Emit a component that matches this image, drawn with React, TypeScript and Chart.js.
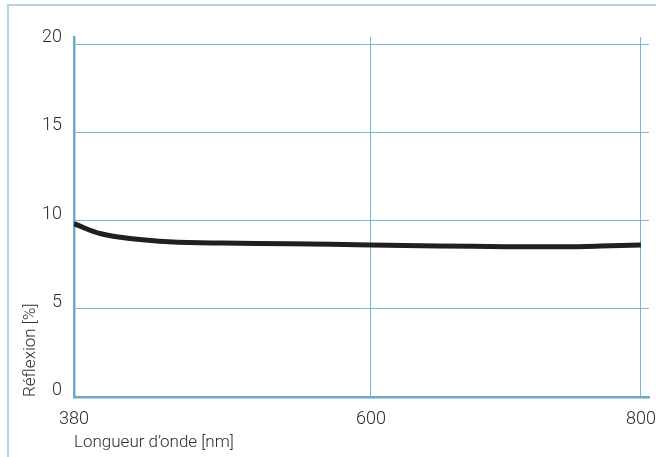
import React, { useEffect, useRef } from "react";
import { Chart, registerables } from "chart.js";

Chart.register(...registerables);

const wavelengths = [380, 400, 425, 450, 490, 540, 600, 650, 700, 740, 770, 800];
const reflection = [9.82, 9.25, 8.95, 8.8, 8.72, 8.68, 8.62, 8.56, 8.52, 8.51, 8.55, 8.62];
const xTicks = [380, 600, 800];
const yTicks = [0, 5, 10, 15, 20];
const xTitle = "Longueur d’onde [nm]";
const yTitle = "Réflexion [%]";

const GRID = "#7db6d2";
const AXIS = "#6fa9c7";
const TEXT = "#2e2e2e";
const FONT = "Roboto";

const frame = {
  id: "frame",
  beforeDraw(chart: any) {
    const ctx = chart.ctx;
    ctx.save();
    ctx.strokeStyle = "#b3d6e6";
    ctx.lineWidth = 2;
    ctx.beginPath();
    ctx.moveTo(8, chart.height);
    ctx.lineTo(8, 5);
    ctx.lineTo(chart.width, 5);
    ctx.stroke();
    ctx.restore();
  },
};

export default function App() {
  const ref = useRef<HTMLCanvasElement>(null);
  useEffect(() => {
    document.body.style.margin = "0";
    const chart = new Chart(ref.current!, {
      type: "line",
      data: {
        datasets: [
          {
            data: wavelengths.map((x, i) => ({ x, y: reflection[i] })),
            borderColor: "#231f20",
            borderWidth: 5,
            pointRadius: 0,
            tension: 0.4,
            fill: false,
          },
        ],
      },
      options: {
        animation: false,
        responsive: false,
        layout: { padding: { left: 19, right: 7, top: 37, bottom: 4 } },
        plugins: { legend: { display: false }, tooltip: { enabled: false } },
        scales: {
          x: {
            type: "linear",
            min: 380,
            max: 806,
            afterBuildTicks: (s: any) => {
              s.ticks = xTicks.map((v) => ({ value: v }));
            },
            afterFit: (s: any) => {
              s.height = 56;
              s.paddingLeft = 0;
              s.paddingRight = 0;
              s.paddingTop = 0;
              s.paddingBottom = 0;
            },
            grid: { color: GRID, lineWidth: 1, drawTicks: false },
            border: { color: AXIS, width: 2.5 },
            ticks: {
              padding: 12,
              color: TEXT,
              font: { family: FONT, size: 18, weight: "300" },
              maxRotation: 0,
              autoSkip: false,
              callback: (v: any) => String(v),
            },
            title: {
              display: true,
              text: xTitle,
              align: "start",
              color: TEXT,
              font: { family: FONT, size: 17, weight: "300" },
              padding: { top: 0, bottom: 0 },
            },
          },
          y: {
            type: "linear",
            min: 0,
            max: 20.4,
            afterBuildTicks: (s: any) => {
              s.ticks = yTicks.map((v) => ({ value: v }));
            },
            afterFit: (s: any) => {
              s.width = 55;
              s.paddingLeft = 0;
              s.paddingRight = 0;
              s.paddingTop = 0;
              s.paddingBottom = 0;
            },
            grid: { color: GRID, lineWidth: 1, drawTicks: false },
            border: { color: AXIS, width: 2.5 },
            ticks: {
              padding: 12,
              labelOffset: -6.5,
              color: TEXT,
              font: { family: FONT, size: 18, weight: "300" },
              autoSkip: false,
              callback: (v: any) => String(v),
            },
            title: {
              display: true,
              text: yTitle,
              align: "start",
              color: TEXT,
              font: { family: FONT, size: 17, weight: "300" },
              padding: { top: 2, bottom: 0 },
            },
          },
        },
      },
      plugins: [frame],
    });
    return () => chart.destroy();
  }, []);
  return (
    <div style={{ width: 656, height: 457 }}>
      <canvas ref={ref} width={656} height={457} />
    </div>
  );
}
